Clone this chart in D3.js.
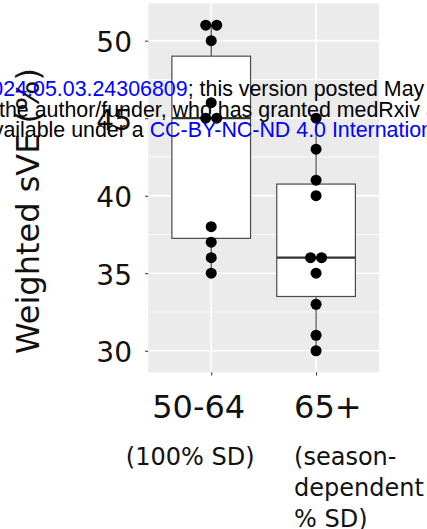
<!DOCTYPE html>
<html>
<head>
<meta charset="utf-8">
<script src="https://cdn.jsdelivr.net/npm/d3@7"></script>
<style>
  body { margin: 0; background: #fff; }
  svg { display: block; }
</style>
</head>
<body>
<svg id="chart"></svg>
<script>
const width = 427;
const height = 529;
const panel = { left: 148.3, right: 379, top: 3.3, bottom: 372.3 };

// data
const categories = ["50-64", "65+"];
const subLabels = [["(100% SD)"], ["(season-", "dependent", "% SD)"]];
const sve5064 = [51, 51, 50, 46, 45, 45, 38, 37, 36, 35];
const sve65 = [45, 43, 41, 40, 36, 36, 35, 33, 31, 30];
const yTicks = [30, 35, 40, 45, 50];
const yMinor = [32.5, 37.5, 42.5, 47.5];
const yTitle = "Weighted sVE (%)";

const groups = [sve5064, sve65];

const svg = d3.select("#chart")
  .attr("width", width)
  .attr("height", height);

const x = d3.scalePoint().domain(categories).range([panel.left, panel.right]).padding(0.6);
const y = d3.scaleLinear().domain([28.61, 52.41]).range([panel.bottom, panel.top]);

// panel + grid
svg.append("rect")
  .attr("x", panel.left).attr("y", panel.top)
  .attr("width", panel.right - panel.left)
  .attr("height", panel.bottom - panel.top)
  .attr("fill", "#ebebeb");

svg.selectAll(".minor").data(yMinor).enter().append("line")
  .attr("x1", panel.left).attr("x2", panel.right)
  .attr("y1", d => y(d)).attr("y2", d => y(d))
  .attr("stroke", "#fff").attr("stroke-width", 0.8);

svg.selectAll(".major").data(yTicks).enter().append("line")
  .attr("x1", panel.left).attr("x2", panel.right)
  .attr("y1", d => y(d)).attr("y2", d => y(d))
  .attr("stroke", "#fff").attr("stroke-width", 1.6);

svg.selectAll(".vmajor").data(categories).enter().append("line")
  .attr("x1", d => x(d)).attr("x2", d => x(d))
  .attr("y1", panel.top).attr("y2", panel.bottom)
  .attr("stroke", "#fff").attr("stroke-width", 1.6);

// boxplots
const boxW = x.step() * 0.75;
const lineCol = "#4a4a4a";

groups.forEach((vals, i) => {
  const cx = x(categories[i]);
  const s = vals.slice().sort(d3.ascending);
  const q1 = d3.quantile(s, 0.25);
  const med = d3.quantile(s, 0.5);
  const q3 = d3.quantile(s, 0.75);
  const iqr = q3 - q1;
  const lo = d3.min(s.filter(v => v >= q1 - 1.5 * iqr));
  const hi = d3.max(s.filter(v => v <= q3 + 1.5 * iqr));
  const g = svg.append("g");

  g.append("line")
    .attr("x1", cx).attr("x2", cx).attr("y1", y(hi)).attr("y2", y(q3))
    .attr("stroke", lineCol).attr("stroke-width", 1.2);
  g.append("line")
    .attr("x1", cx).attr("x2", cx).attr("y1", y(q1)).attr("y2", y(lo))
    .attr("stroke", lineCol).attr("stroke-width", 1.2);
  g.append("rect")
    .attr("x", cx - boxW / 2).attr("y", y(q3))
    .attr("width", boxW).attr("height", y(q1) - y(q3))
    .attr("fill", "#fff").attr("stroke", lineCol).attr("stroke-width", 1.2);
  g.append("line")
    .attr("x1", cx - boxW / 2).attr("x2", cx + boxW / 2)
    .attr("y1", y(med)).attr("y2", y(med))
    .attr("stroke", "#333").attr("stroke-width", 2.2);

  // centred dot stacks
  const dotR = 5.5;
  const counts = d3.rollup(vals, v => v.length, d => d);
  const dots = [];
  counts.forEach((n, v) => {
    for (let k = 0; k < n; k++) dots.push({ v: v, off: (k - (n - 1) / 2) * dotR * 2 });
  });
  g.selectAll("circle").data(dots).enter().append("circle")
    .attr("cx", d => cx + d.off)
    .attr("cy", d => y(d.v))
    .attr("r", dotR)
    .attr("fill", "#000");
});

// axes
const font = "DejaVu Sans";

const yAxis = svg.append("g")
  .attr("transform", `translate(${panel.left},0)`)
  .call(d3.axisLeft(y).tickValues(yTicks).tickSize(3.3).tickPadding(13));
yAxis.select(".domain").remove();
yAxis.selectAll(".tick line").attr("stroke", "#333");
yAxis.selectAll(".tick text")
  .attr("font-family", font).attr("font-size", 28)
  .attr("fill", "#111").attr("dy", "0.4em");

const xAxis = svg.append("g")
  .attr("transform", `translate(0,${panel.bottom})`)
  .call(d3.axisBottom(x).tickSize(3.3).tickFormat(""));
xAxis.select(".domain").remove();
xAxis.selectAll(".tick line").attr("stroke", "#333");

// category labels
svg.append("text")
  .attr("x", x(categories[0]) - 12.5).attr("y", 418.3)
  .attr("text-anchor", "middle")
  .attr("font-family", font).attr("font-size", 32).attr("fill", "#111")
  .text(categories[0]);
svg.append("text")
  .attr("x", x(categories[0]) - 21).attr("y", 465)
  .attr("text-anchor", "middle")
  .attr("font-family", font).attr("font-size", 24).attr("fill", "#111")
  .text(subLabels[0][0]);

svg.append("text")
  .attr("x", x(categories[1]) - 22).attr("y", 418.3)
  .attr("font-family", font).attr("font-size", 32).attr("fill", "#111")
  .text(categories[1]);
svg.selectAll(".sub2").data(subLabels[1]).enter().append("text")
  .attr("x", x(categories[1]) - 22)
  .attr("y", (d, i) => 465 + i * 31.2)
  .attr("font-family", font).attr("font-size", 24).attr("fill", "#111")
  .text(d => d);

svg.append("text")
  .attr("transform", "translate(39,211) rotate(-90)")
  .attr("text-anchor", "middle")
  .attr("font-family", font).attr("font-size", 32).attr("fill", "#111")
  .text(yTitle);

// medRxiv watermark on top
const wm = { family: "Liberation Sans, Arial, sans-serif", size: 21.4 };
function wmText(xPos, yPos, anchor, parts) {
  const t = svg.append("text")
    .attr("x", xPos).attr("y", yPos)
    .attr("text-anchor", anchor)
    .attr("font-family", wm.family).attr("font-size", wm.size)
    .style("white-space", "pre");
  parts.forEach(p => {
    t.append("tspan").attr("fill", p[1] ? "#0000ff" : "#000").text(p[0]);
  });
}
wmText(33, 96, "end", [["medRxiv preprint doi: ", false], ["https://doi.org/10.1101/2024.", true]]);
wmText(33, 96, "start", [["05.03.24306809", true], ["; this version posted May 6, 2024. The copyright holder for this preprint", false]]);
wmText(-1, 116.6, "end", [["(which was not certified by peer review) is ", false]]);
wmText(-1, 116.6, "start", [["the author/funder, who has granted medRxiv a license to display the preprint in perpetuity.", false]]);
wmText(3.4, 137, "end", [["It is made av", false]]);
wmText(3.4, 137, "start", [["ailable under a ", false], ["CC-BY-NC-ND 4.0 International license", true], [" .", false]]);
</script>
</body>
</html>
